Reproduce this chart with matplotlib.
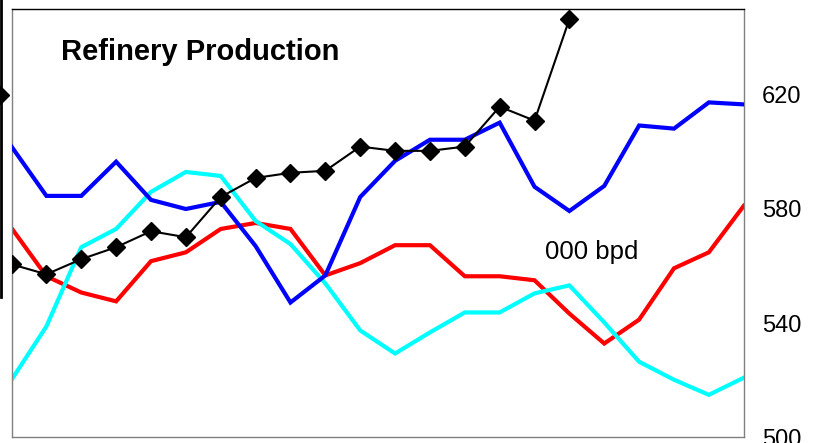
import matplotlib
matplotlib.use("Agg")
import matplotlib.pyplot as plt
from matplotlib.lines import Line2D

plt.rcParams['font.family'] = ['Liberation Sans', 'DejaVu Sans']

periods = list(range(22))
blue = [601.9, 584.6, 584.6, 596.6, 583.2, 580.0, 582.5, 567.0, 547.2, 556.7, 584.2,
        596.9, 604.3, 604.3, 610.3, 587.8, 579.3, 588.1, 609.3, 608.2, 617.4, 616.7]
red = [573.3, 556.4, 550.7, 547.6, 561.7, 564.8, 573.0, 575.1, 573.0, 556.7, 561.0,
       567.3, 567.3, 556.4, 556.4, 555.0, 543.3, 532.8, 541.2, 559.2, 564.8, 581.1]
cyan = [520.1, 538.8, 566.6, 573.0, 586.0, 593.0, 591.6, 575.8, 567.7, 553.9, 537.4,
        529.3, 536.7, 543.7, 543.7, 550.4, 553.2, 540.2, 526.4, 520.1, 514.8, 520.8]
black = [560.6, 557.1, 562.4, 566.6, 572.2, 570.1, 584.2, 590.9, 592.7, 593.4, 601.9,
         600.4, 600.4, 601.9, 615.9, 611.0, 646.6]
yticks = [500, 540, 580, 620]

fig = plt.figure(figsize=(8.18, 4.43), dpi=100)
ax = fig.add_axes([0.0141, 0.0135, 0.9092 - 0.0141, 0.9786 - 0.0135])

ax.plot(periods, blue, color='#0000ff', lw=3.0, solid_joinstyle='miter', zorder=3)
ax.plot(periods, red, color='#ff0000', lw=3.0, solid_joinstyle='miter', zorder=2)
ax.plot(periods, cyan, color='#00ffff', lw=3.0, solid_joinstyle='miter', zorder=2)
ax.plot(periods[:len(black)], black, color='black', lw=1.5, marker='D', ms=9,
        zorder=4)

ax.set_xlim(0, 21)
ax.set_ylim(500, 650)
ax.set_xticks([])
ax.yaxis.tick_right()
ax.set_yticks(yticks)
ax.set_yticklabels([str(t) for t in yticks])
ax.tick_params(axis='y', length=0, pad=13, labelsize=17)
for s in ['left', 'right', 'bottom']:
    ax.spines[s].set_color('#808080')
ax.spines['top'].set_color('black')
for s in ax.spines.values():
    s.set_linewidth(1.0)

ax.text(0.068, 0.90, 'Refinery Production', transform=ax.transAxes,
        fontsize=21, fontweight='bold', va='center', ha='left')
ax.text(0.729, 0.433, '000 bpd', transform=ax.transAxes,
        fontsize=18.5, va='center', ha='left')

# cropped element of neighbouring chart at the left edge
fig.add_artist(Line2D([1.0 / 818, 1.0 / 818], [1.0, 1 - 297 / 443],
                      transform=fig.transFigure, color='black', lw=2))
fig.add_artist(Line2D([0.0], [1 - 95 / 443], transform=fig.transFigure,
                      marker='D', ms=9, color='black', lw=0))

fig.savefig('out.png', dpi=100)
